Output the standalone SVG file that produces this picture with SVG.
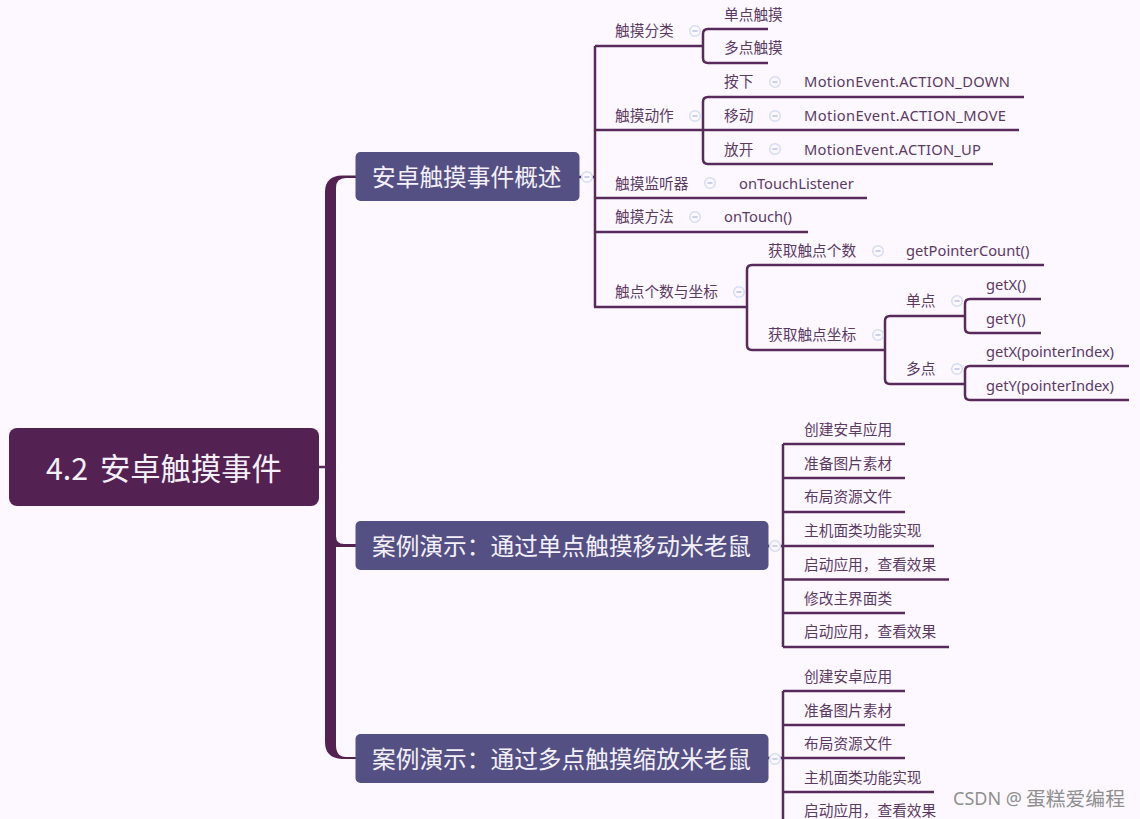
<svg xmlns="http://www.w3.org/2000/svg" width="1140" height="819" viewBox="0 0 1140 819">
<style>
.bg{fill:#fdf8ff}
.t{font-family:"Noto Sans CJK SC","Noto Sans",sans-serif;font-size:14.7px;fill:#5b3a62;dominant-baseline:central}
.l{font-family:"Noto Sans","Noto Sans CJK SC",sans-serif;font-size:14.7px;fill:#5b3a62;dominant-baseline:central}
.n{font-family:"Noto Sans CJK SC","Noto Sans",sans-serif;font-size:23.7px;fill:#f4f0fa;dominant-baseline:central}
.c{fill:none;stroke:#582a5c;stroke-width:2.5;stroke-linejoin:round}
.trunk{fill:#542252;stroke:none}
.fold{fill:#fdf8ff;stroke:#d4dcf2;stroke-width:1.5}
.dash{stroke:#a9b6dc;stroke-width:1.2}
</style>
<defs>
<g id="f"><circle class="fold" r="5.300"/><path class="dash" d="M-2.600 0H2.600"/></g>
</defs>
<rect class="bg" width="1140" height="819"/>
<g id="connectors">
<path class="trunk" d="M356 175.500H342Q325 176 325 192V742Q325 758 342 759H356V757H346Q336 757 336 745V188Q336 178 346 178H356Z"/>
<path class="trunk" d="M336 536Q336 544 344 544H356V547H336Z"/>
<path class="c" d="M319 467H326M579 177H595M768 546H783M768 758H783"/>
<path class="c" d="M595 232V46M595 232V307"/>
<path class="c" d="M595 46H703M595 130H703M595 198H867M595 232H808M594 307H747"/>
<path class="c" d="M768 29H708Q703 29 703 34V58Q703 63 708 63H768"/>
<path class="c" d="M1024 97H708Q703 97 703 102V159Q703 164 708 164H993M703 130H1019"/>
<path class="c" d="M1044 265H752Q747 265 747 270V345Q747 350 752 350H885"/>
<path class="c" d="M965 316H890Q885 316 885 321V379Q885 384 890 384H965"/>
<path class="c" d="M1041 299H970Q965 299 965 304V328Q965 333 970 333H1041"/>
<path class="c" d="M1129 366H970Q965 366 965 371V395Q965 400 970 400H1129"/>
<path class="c" d="M783 444V647M783 444H905M783 478H905M783 512H905M783 546H934M783 579.500H949M783 613H905M783 647H949"/>
<path class="c" d="M783 691V819M783 691H905M783 725H905M783 758H905M783 792H934"/>
</g>
<g id="root"><rect x="9" y="428" width="310" height="78" rx="8" fill="#542252"/><text class="n" y="466.500" style="font-size:30.300px"><tspan x="46">4.2</tspan><tspan x="100">安卓触摸事件</tspan></text></g>
<g id="n1"><rect x="355.500" y="152" width="224" height="49" rx="5" fill="#545084"/><text class="n" x="372" y="176">安卓触摸事件概述</text></g>
<g id="n2"><rect x="355.500" y="521" width="413" height="49" rx="5" fill="#545084"/><text class="n" x="372" y="545">案例演示：通过单点触摸移动米老鼠</text></g>
<g id="n3"><rect x="355.500" y="734" width="413" height="49" rx="5" fill="#545084"/><text class="n" x="372" y="758">案例演示：通过多点触摸缩放米老鼠</text></g>
<g id="folds">
<use href="#f" x="587" y="177"/><use href="#f" x="775" y="546"/><use href="#f" x="775" y="759"/>
<use href="#f" x="695" y="31"/><use href="#f" x="695" y="116"/><use href="#f" x="710" y="183"/><use href="#f" x="695" y="217"/><use href="#f" x="739" y="292"/>
<use href="#f" x="775" y="82"/><use href="#f" x="775" y="116"/><use href="#f" x="775" y="149"/>
<use href="#f" x="878" y="251"/><use href="#f" x="878" y="335"/><use href="#f" x="957" y="301"/><use href="#f" x="957" y="369"/>
</g>
<g id="touch-labels">
<text class="t" x="615" y="29.500">触摸分类</text>
<text class="t" x="724" y="13.500">单点触摸</text>
<text class="t" x="724" y="46.500">多点触摸</text>
<text class="t" x="615" y="114.500">触摸动作</text>
<text class="t" x="724" y="80.500">按下</text>
<text class="t" x="724" y="114.500">移动</text>
<text class="t" x="724" y="148.500">放开</text>
<text class="l" x="804" y="81" textLength="206">MotionEvent.ACTION_DOWN</text>
<text class="l" x="804" y="115" textLength="202">MotionEvent.ACTION_MOVE</text>
<text class="l" x="804" y="149" textLength="177">MotionEvent.ACTION_UP</text>
<text class="t" x="615" y="182.500">触摸监听器</text>
<text class="l" x="739" y="183">onTouchListener</text>
<text class="t" x="615" y="215.500">触摸方法</text>
<text class="l" x="724" y="216">onTouch()</text>
<text class="t" x="615" y="290.500">触点个数与坐标</text>
<text class="t" x="768" y="249.500">获取触点个数</text>
<text class="l" x="906" y="250">getPointerCount()</text>
<text class="t" x="768" y="333.500">获取触点坐标</text>
<text class="t" x="906" y="299.500">单点</text>
<text class="t" x="906" y="367.500">多点</text>
<text class="l" x="986" y="284">getX()</text>
<text class="l" x="986" y="318">getY()</text>
<text class="l" x="986" y="351" textLength="128">getX(pointerIndex)</text>
<text class="l" x="986" y="385" textLength="128">getY(pointerIndex)</text>
</g>
<g id="case1-labels">
<text class="t" x="804" y="428.500">创建安卓应用</text>
<text class="t" x="804" y="462.500">准备图片素材</text>
<text class="t" x="804" y="495.500">布局资源文件</text>
<text class="t" x="804" y="529.500">主机面类功能实现</text>
<text class="t" x="804" y="563.500">启动应用，查看效果</text>
<text class="t" x="804" y="597.500">修改主界面类</text>
<text class="t" x="804" y="630.500">启动应用，查看效果</text>
</g>
<g id="case2-labels">
<text class="t" x="804" y="675.500">创建安卓应用</text>
<text class="t" x="804" y="709.500">准备图片素材</text>
<text class="t" x="804" y="742.500">布局资源文件</text>
<text class="t" x="804" y="776.500">主机面类功能实现</text>
<text class="t" x="804" y="809.500">启动应用，查看效果</text>
</g>
<text y="798" style="font-family:'Noto Sans','Noto Sans CJK SC',sans-serif;font-size:18px;fill:#8f8f8f;dominant-baseline:central"><tspan x="953">CSDN @</tspan><tspan x="1026" style="font-size:19.800px">蛋糕爱编程</tspan></text>
</svg>
